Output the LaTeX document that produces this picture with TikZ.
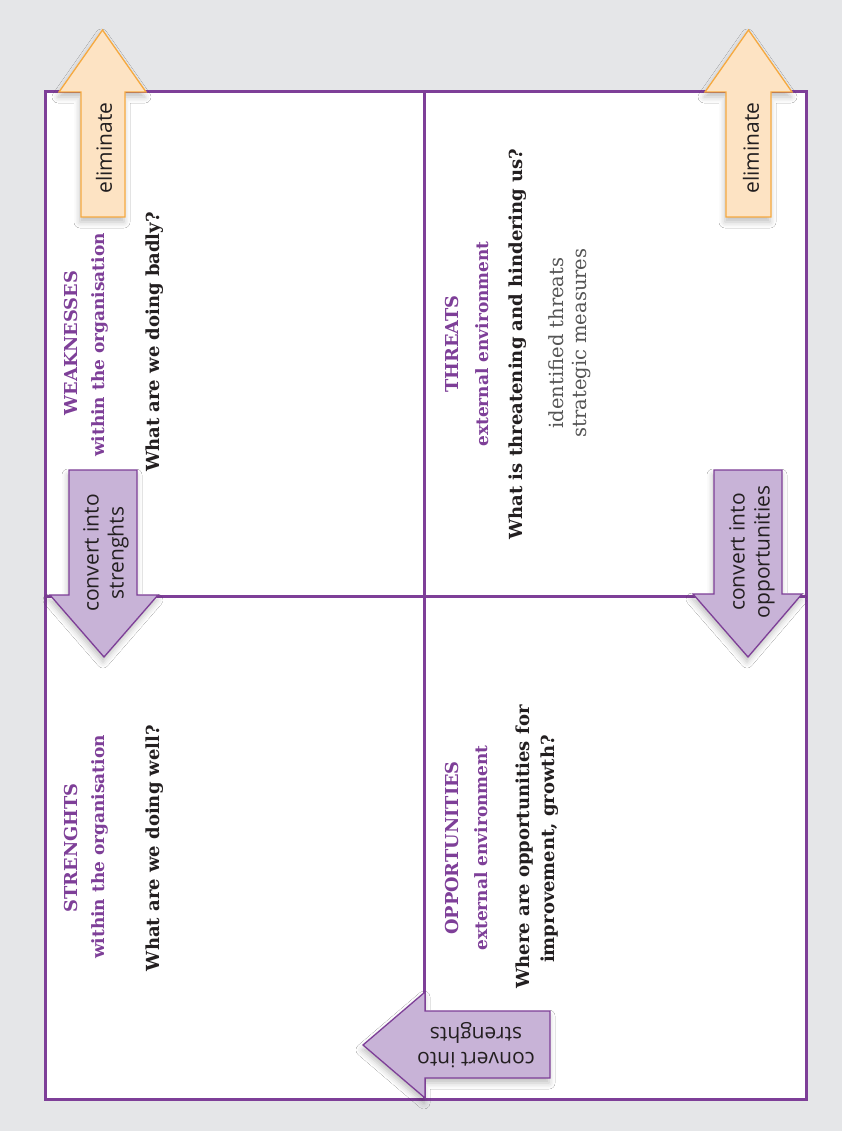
\documentclass[tikz,border=0pt]{standalone}
\usepackage{fontspec}
\usetikzlibrary{shadows.blur}
\newfontfamily\slabfont{DejaVu Serif}
\newfontfamily\labelfont{Open Sans}
\definecolor{pagegrey}{HTML}{E5E6E8}
\definecolor{swotpurple}{HTML}{7E3F98}
\definecolor{lilac}{HTML}{C8B3D7}
\definecolor{peach}{HTML}{FDE3C3}
\definecolor{amber}{HTML}{F6A93F}
\definecolor{ink}{HTML}{231F20}
\definecolor{softink}{HTML}{555555}

\begin{document}
\begin{tikzpicture}[x=1pt,y=-1pt,
  frame/.style={draw=swotpurple,line width=3pt},
  quadtitle/.style={rotate=90,anchor=base,inner sep=0pt,text=swotpurple,
    font=\slabfont\bfseries\fontsize{17.8}{22}\selectfont},
  quadsub/.style={rotate=90,anchor=base,inner sep=0pt,text=swotpurple,
    font=\slabfont\bfseries\fontsize{17}{19}\selectfont},
  question/.style={rotate=90,anchor=base,inner sep=0pt,text=ink,
    font=\slabfont\bfseries\fontsize{18}{25}\selectfont},
  notetext/.style={rotate=90,anchor=base,inner sep=0pt,text=softink,
    font=\slabfont\fontsize{19.5}{23}\selectfont},
  softshadow/.style={blur shadow={shadow xshift=-1pt,shadow yshift=-5pt,
    shadow blur radius=6pt,shadow opacity=25}},
  elimarrow/.style={fill=peach,draw=amber,line width=1.3pt,line join=miter,softshadow},
  convarrow/.style={fill=lilac,draw=swotpurple,line width=1.3pt,line join=miter,softshadow},
  arrowlabel/.style={inner sep=0pt,align=center,text=ink,
    font=\labelfont\fontsize{21}{25}\selectfont},
]
\useasboundingbox (0,0) rectangle (842,1131);
\fill[pagegrey] (0,0) rectangle (842,1131);

% the four-field frame
\fill[white] (45,91.5) rectangle (806.5,1099);
\draw[frame] (424.5,91.5) -- (424.5,1099);
\draw[frame] (45,596) -- (806.5,596);
\draw[frame] (45,91.5) rectangle (806.5,1099);

% weaknesses
\node[quadtitle] (wtitle) at (77,343) {WEAKNESSES};
\node[quadsub] (wsub) at (104,345) {within the organisation};
\node[question] (wq) at (159,342) {What are we doing badly?};

% strengths
\node[quadtitle] (stitle) at (77,848) {STRENGHTS};
\node[quadsub] (ssub) at (104,847) {within the organisation};
\node[question] (sq) at (159,848) {What are we doing well?};

% threats
\node[quadtitle] (ttitle) at (458,344) {THREATS};
\node[quadsub] (tsub) at (488,344) {external environment};
\node[question] (tq) at (522,344) {What is threatening and hindering us?};
\node[notetext] (tn1) at (563,343) {identified threats};
\node[notetext] (tn2) at (586,343) {strategic measures};

% opportunities
\node[quadtitle] (otitle) at (458,848) {OPPORTUNITIES};
\node[quadsub] (osub) at (487,848) {external environment};
\node[question] (oq1) at (529,847) {Where are opportunities for};
\node[question] (oq2) at (554,849) {improvement, growth?};

% arrows: eliminate weaknesses and threats
\draw[elimarrow] (81,217) -- (81,92) -- (59,92) -- (102.5,30) -- (146,92) -- (125,92) -- (125,217) -- cycle;
\node[arrowlabel,rotate=90] (elimw) at (104,148) {eliminate};
\draw[elimarrow] (726,217) -- (726,92) -- (705,92) -- (748.5,30) -- (792,92) -- (771,92) -- (771,217) -- cycle;
\node[arrowlabel,rotate=90] (elimt) at (751,148) {eliminate};

% arrows: conversions
\draw[convarrow] (69,470) -- (137,470) -- (137,595) -- (158,595) -- (104,657) -- (50,595) -- (69,595) -- cycle;
\node[arrowlabel,rotate=90] (convw) at (106,553) {convert into\\strenghts};
\draw[convarrow] (714,470) -- (782,470) -- (782,594) -- (802,594) -- (748,657) -- (693,594) -- (714,594) -- cycle;
\node[arrowlabel,rotate=90] (convt) at (752,552) {convert into\\opportunities};
\draw[convarrow] (550,1011) -- (550,1078) -- (425,1078) -- (425,1098) -- (363,1045) -- (425,992) -- (425,1011) -- cycle;
\node[arrowlabel,rotate=180] (convo) at (476,1045) {convert into\\strenghts};
\end{tikzpicture}
\end{document}
